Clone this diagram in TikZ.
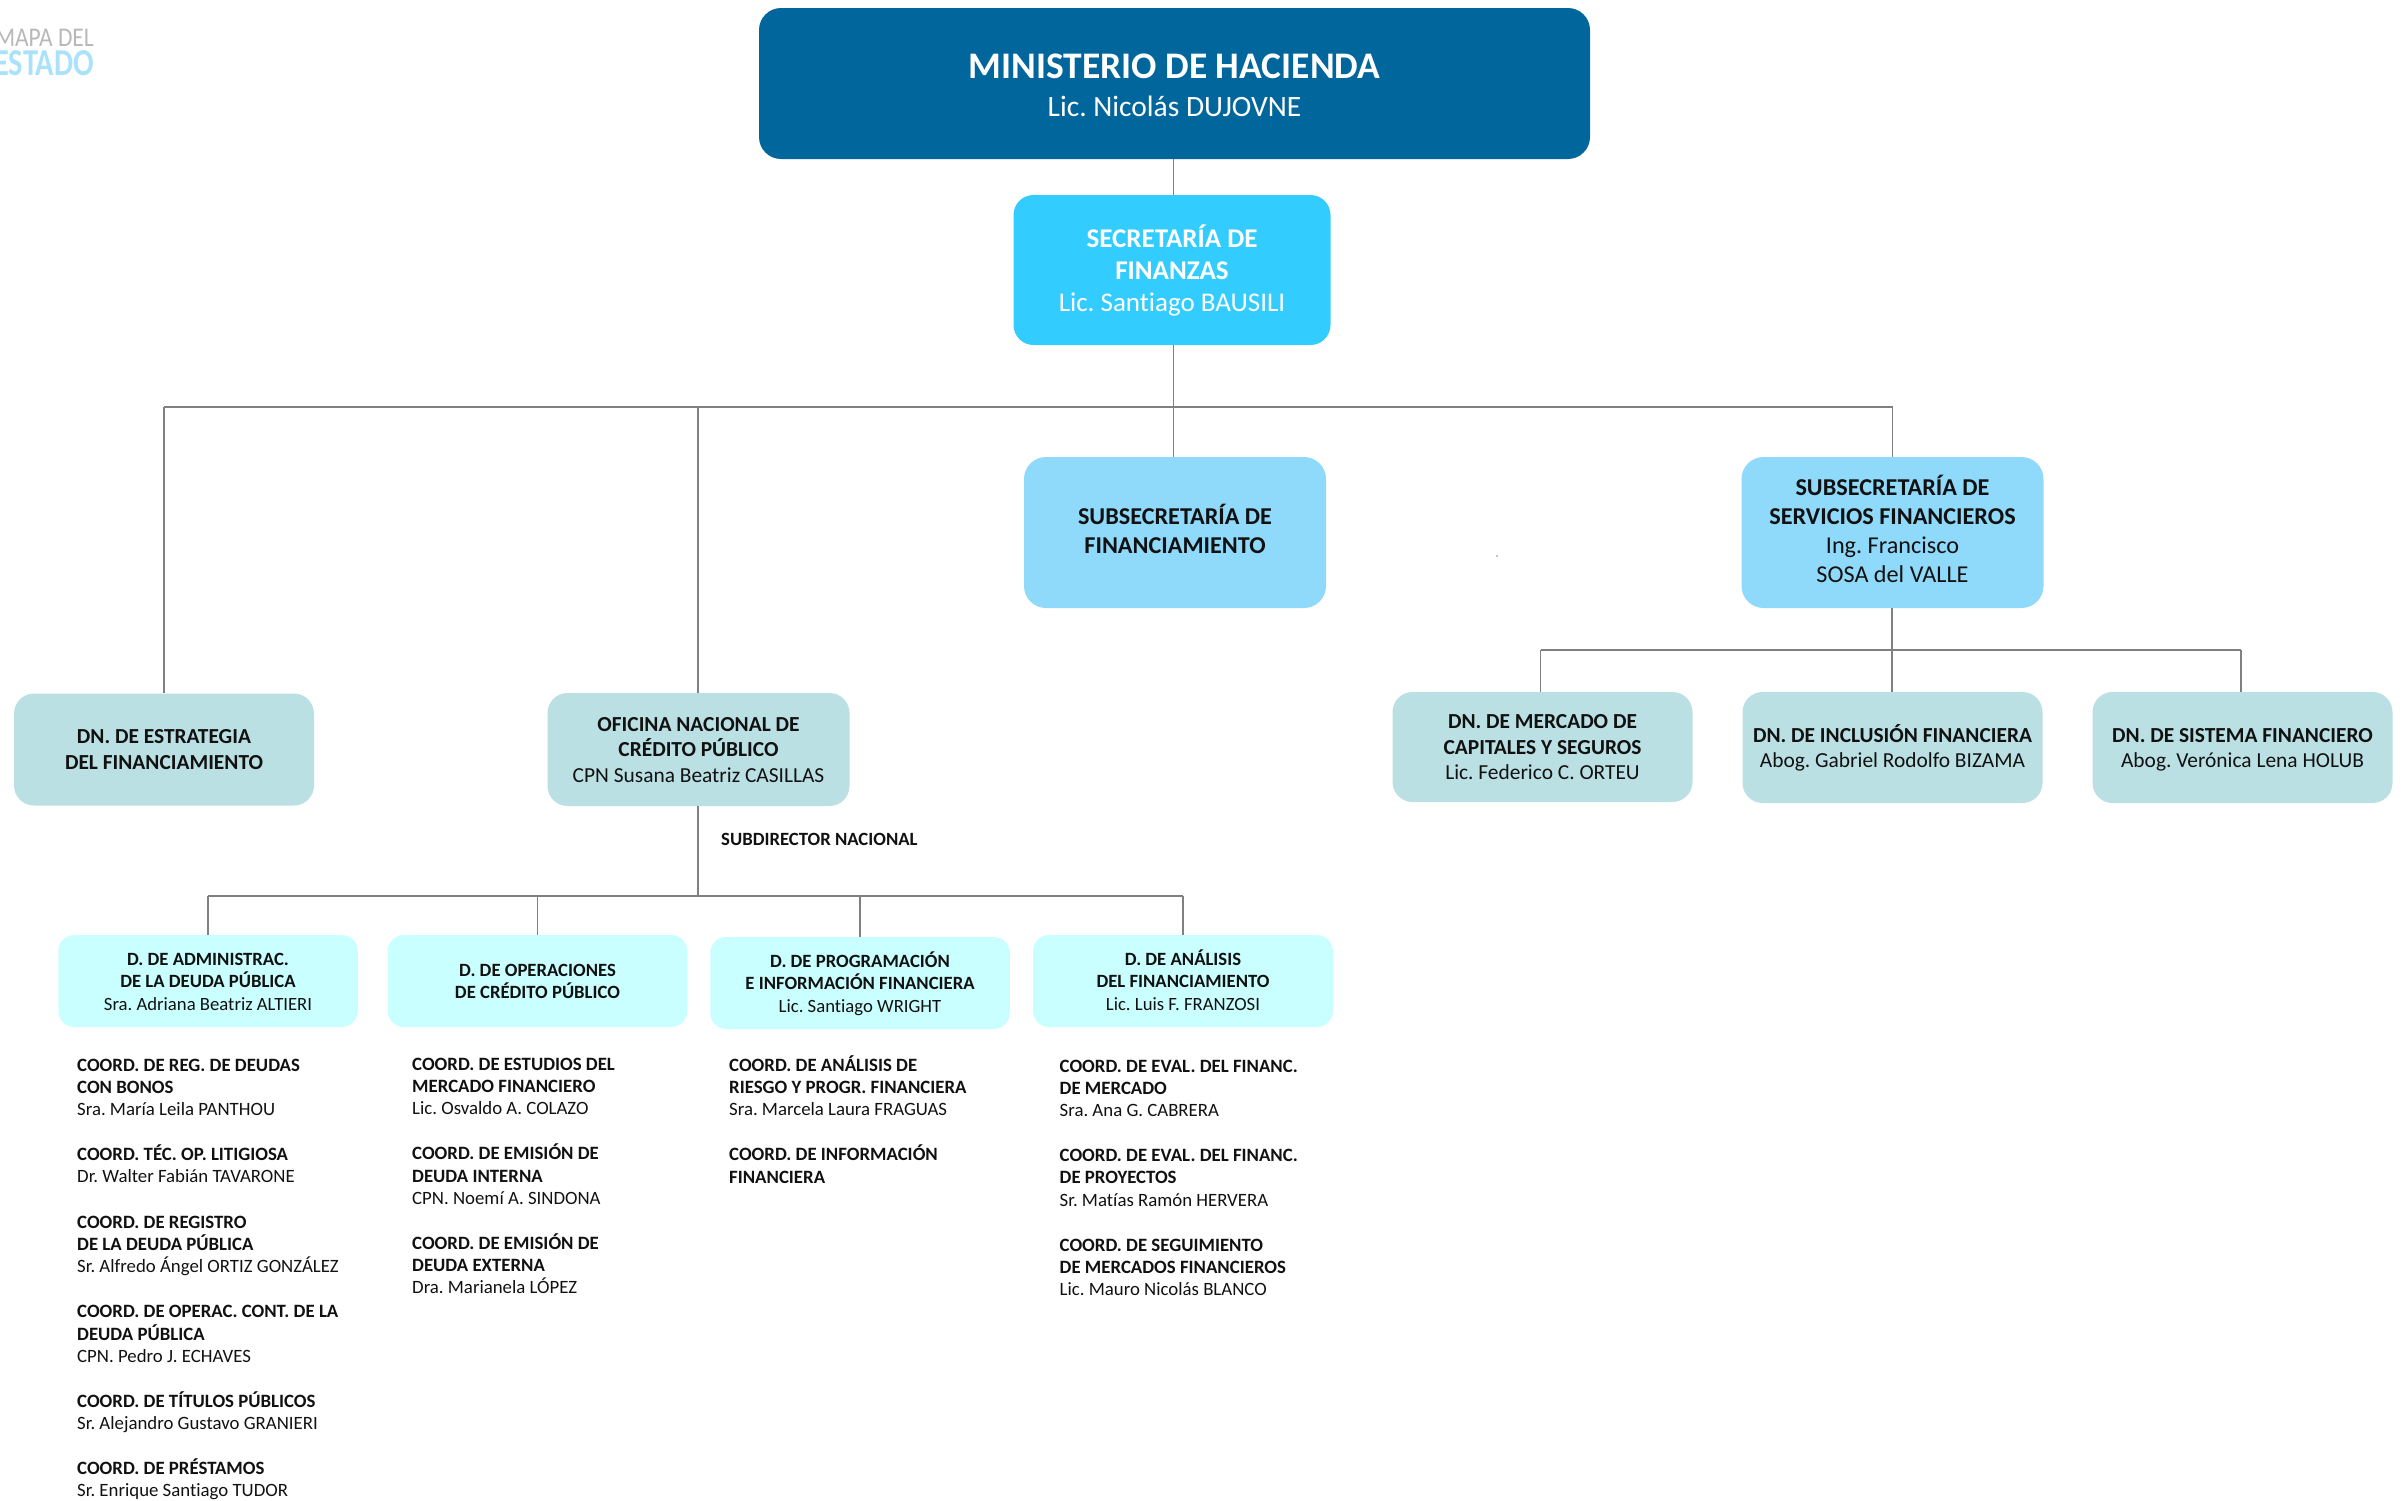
\documentclass[tikz,border=0pt]{standalone}
\usepackage{fontspec}
\usepackage{graphicx}
\setmainfont[Ligatures=NoCommon]{Carlito}
\frenchspacing
\definecolor{cMin}{HTML}{00669B}
\definecolor{cSec}{HTML}{33CCFF}
\definecolor{cSub}{HTML}{8FD9FA}
\definecolor{cDN}{HTML}{BAE0E4}
\definecolor{cD}{HTML}{C9FFFF}
\definecolor{cLine}{HTML}{808080}
\definecolor{cTxt}{HTML}{111111}
\newcommand\tl[2]{\raisebox{\dimexpr #1pt-.3em\relax}[0pt][0pt]{\begin{tabular}{@{}c@{}}#2\end{tabular}}}
\newcommand\cl[1]{\begin{tabular}{@{}l@{}}#1\end{tabular}}
\tikzset{
  orgbox/.style={inner sep=0pt,draw=none,text=cTxt},
  minbox/.style={orgbox,fill=cMin,rounded corners=22pt,text=white,font=\fontsize{29.5}{38}\selectfont,minimum width=831pt,minimum height=151pt},
  secbox/.style={orgbox,fill=cSec,rounded corners=20pt,text=white,font=\fontsize{27}{32}\selectfont,minimum width=317pt,minimum height=150pt},
  subbox/.style={orgbox,fill=cSub,rounded corners=22pt,font=\fontsize{24.2}{29}\selectfont,minimum width=302pt,minimum height=151pt},
  dnbox/.style={orgbox,fill=cDN,rounded corners=20pt,font=\fontsize{21.4}{25.6}\selectfont,minimum width=300pt,minimum height=112pt},
  dbox/.style={orgbox,fill=cD,rounded corners=16pt,font=\fontsize{18.7}{22.6}\selectfont,minimum width=299.5pt,minimum height=92pt},
  coord/.style={inner sep=0pt,anchor=west,text=cTxt,font=\fontsize{18.8}{22.4}\selectfont},
  link/.style={draw=cLine,line width=1.8pt},
  bus/.style={draw=cLine,line width=2.6pt,line cap=square},
}
\begin{document}
\begin{tikzpicture}[x=1pt,y=-1pt]
\useasboundingbox (0,0) rectangle (2402,1500);
% top
\node[minbox] (min) at (1174.5,83.5) {\tl{-3.5}{{\fontsize{37.5}{38}\selectfont\textbf{MINISTERIO DE HACIENDA}}\\Lic. Nicolás DUJOVNE}};
\node[secbox] (sec) at (1172,270) {\tl{-1}{\textbf{SECRETARÍA DE}\\\textbf{FINANZAS}\\Lic. Santiago BAUSILI}};
\node[subbox] (subfin) at (1175,532.5) {\tl{0}{\textbf{SUBSECRETARÍA DE}\\\textbf{FINANCIAMIENTO}}};
\node[subbox] (subserv) at (1892.5,532.5) {\tl{0}{\textbf{SUBSECRETARÍA DE}\\\textbf{SERVICIOS FINANCIEROS}\\Ing. Francisco\\SOSA del VALLE}};
% left DN
\node[dnbox] (estr) at (164,749.5) {\tl{-0.5}{\textbf{DN. DE ESTRATEGIA}\\\textbf{DEL FINANCIAMIENTO}}};
\node[dnbox,minimum height=113pt,minimum width=302pt] (ofi) at (698.5,749.5) {\tl{-1}{\textbf{OFICINA NACIONAL DE}\\\textbf{CRÉDITO PÚBLICO}\\CPN Susana Beatriz CASILLAS}};
% right DN
\node[dnbox,minimum height=110pt] (merc) at (1542.5,747) {\tl{-1}{\textbf{DN. DE MERCADO DE}\\\textbf{CAPITALES Y SEGUROS}\\Lic. Federico C. ORTEU}};
\node[dnbox,minimum height=111pt] (incl) at (1892.5,747.5) {\tl{-1}{\textbf{DN. DE INCLUSIÓN FINANCIERA}\\Abog. Gabriel Rodolfo BIZAMA}};
\node[dnbox,minimum height=111pt] (sist) at (2242.5,747.5) {\tl{-1}{\textbf{DN. DE SISTEMA FINANCIERO}\\Abog. Verónica Lena HOLUB}};
% D boxes
\node[dbox] (dadm) at (208,981) {\tl{-1}{\textbf{D. DE ADMINISTRAC.}\\\textbf{DE LA DEUDA PÚBLICA}\\Sra. Adriana Beatriz ALTIERI}};
\node[dbox] (dope) at (537.5,981) {\tl{-0.5}{\textbf{D. DE OPERACIONES}\\\textbf{DE CRÉDITO PÚBLICO}}};
\node[dbox] (dpro) at (860,983) {\tl{-1}{\textbf{D. DE PROGRAMACIÓN}\\\textbf{E INFORMACIÓN FINANCIERA}\\Lic. Santiago WRIGHT}};
\node[dbox,minimum width=300pt] (dana) at (1183,981) {\tl{-1}{\textbf{D. DE ANÁLISIS}\\\textbf{DEL FINANCIAMIENTO}\\Lic. Luis F. FRANZOSI}};
% label
\node[inner sep=0pt,anchor=west,text=cTxt,font=\fontsize{18.7}{20}\selectfont\bfseries] (subdir) at (721,839) {SUBDIRECTOR NACIONAL};
% logo
\node[inner sep=0pt,anchor=east,text=black!28,font=\fontsize{27}{27}\selectfont] (logo1) at (94,38) {\scalebox{.87}[1]{MAPA DEL}};
\node[inner sep=0pt,anchor=east,text=cSub!75,font=\fontsize{38}{38}\selectfont\bfseries] (logo2) at (94,63) {\scalebox{.8}[1]{ESTADO}};
% coord column 1
\node[coord] (a1) at (77,1089) {\cl{\textbf{COORD. DE REG. DE DEUDAS}\\\textbf{CON BONOS}\\Sra. María Leila PANTHOU}};
\node[coord] (a2) at (77,1167) {\cl{\textbf{COORD. TÉC. OP. LITIGIOSA}\\Dr. Walter Fabián TAVARONE}};
\node[coord] (a3) at (77,1246) {\cl{\textbf{COORD. DE REGISTRO}\\\textbf{DE LA DEUDA PÚBLICA}\\Sr. Alfredo Ángel ORTIZ GONZÁLEZ}};
\node[coord] (a4) at (77,1335.5) {\cl{\textbf{COORD. DE OPERAC. CONT. DE LA}\\\textbf{DEUDA PÚBLICA}\\CPN. Pedro J. ECHAVES}};
\node[coord] (a5) at (77,1414) {\cl{\textbf{COORD. DE TÍTULOS PÚBLICOS}\\Sr. Alejandro Gustavo GRANIERI}};
\node[coord] (a6) at (77,1481) {\cl{\textbf{COORD. DE PRÉSTAMOS}\\Sr. Enrique Santiago TUDOR}};
% coord column 2
\node[coord] (b1) at (412,1088) {\cl{\textbf{COORD. DE ESTUDIOS DEL}\\\textbf{MERCADO FINANCIERO}\\Lic. Osvaldo A. COLAZO}};
\node[coord] (b2) at (412,1177.5) {\cl{\textbf{COORD. DE EMISIÓN DE}\\\textbf{DEUDA INTERNA}\\CPN. Noemí A. SINDONA}};
\node[coord] (b3) at (412,1267) {\cl{\textbf{COORD. DE EMISIÓN DE}\\\textbf{DEUDA EXTERNA}\\Dra. Marianela LÓPEZ}};
% coord column 3
\node[coord] (c1) at (729,1089) {\cl{\textbf{COORD. DE ANÁLISIS DE}\\\textbf{RIESGO Y PROGR. FINANCIERA}\\Sra. Marcela Laura FRAGUAS}};
\node[coord] (c2) at (729,1167.5) {\cl{\textbf{COORD. DE INFORMACIÓN}\\\textbf{FINANCIERA}}};
% coord column 4
\node[coord] (e1) at (1059.5,1090) {\cl{\textbf{COORD. DE EVAL. DEL FINANC.}\\\textbf{DE MERCADO}\\Sra. Ana G. CABRERA}};
\node[coord] (e2) at (1059.5,1179.5) {\cl{\textbf{COORD. DE EVAL. DEL FINANC.}\\\textbf{DE PROYECTOS}\\Sr. Matías Ramón HERVERA}};
\node[coord] (e3) at (1059.5,1269) {\cl{\textbf{COORD. DE SEGUIMIENTO}\\\textbf{DE MERCADOS FINANCIEROS}\\Lic. Mauro Nicolás BLANCO}};
% junctions
\coordinate (busA) at (0,407);
\coordinate (busB) at (0,650);
\coordinate (busC) at (0,896);
% connectors
\draw[link] ([xshift=-1pt]min.south) -- ([xshift=-1pt]min.south |- sec.north);
\draw[link] ([xshift=-1.5pt]subfin.north) -- ([xshift=-1.5pt]subfin.north |- sec.south);
\draw[bus] (estr.north |- busA) -- (subserv.north |- busA);
\draw[link] (estr.north) -- (estr.north |- busA);
\draw[link] ([xshift=-.5pt]ofi.north) -- ([xshift=-.5pt]ofi.north |- busA);
\draw[link] (subserv.north) -- (subserv.north |- busA);
\draw[link] ([xshift=-.5pt]subserv.south) -- ([xshift=-.5pt]incl.north);
\draw[bus] ([xshift=-2pt]merc.north |- busB) -- ([xshift=-1.5pt]sist.north |- busB);
\draw[link] ([xshift=-2pt]merc.north) -- ([xshift=-2pt]merc.north |- busB);
\draw[link] ([xshift=-1.5pt]sist.north) -- ([xshift=-1.5pt]sist.north |- busB);
\draw[link] ([xshift=-.5pt]ofi.south) -- ([xshift=-.5pt]ofi.south |- busC);
\draw[bus] (dadm.north |- busC) -- (dana.north |- busC);
\draw[link] (dadm.north) -- (dadm.north |- busC);
\draw[link] (dope.north) -- (dope.north |- busC);
\draw[link] (dpro.north) -- (dpro.north |- busC);
\draw[link] (dana.north) -- (dana.north |- busC);
% speck
\fill[black!45] (1497,556) circle (0.8pt);
\end{tikzpicture}
\end{document}
